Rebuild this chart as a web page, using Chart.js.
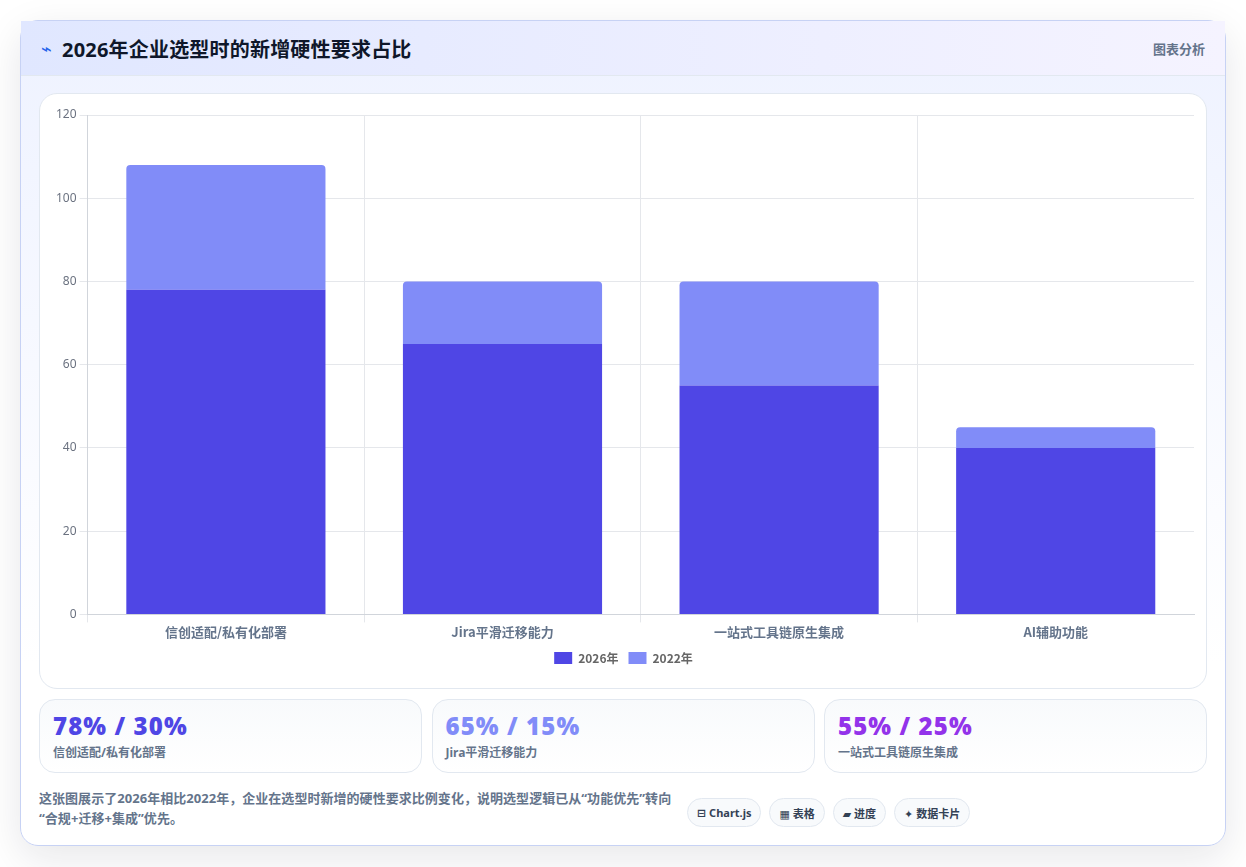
<!DOCTYPE html>
<html lang="zh-CN">
<head>
<meta charset="utf-8">
<title>2026年企业选型时的新增硬性要求占比</title>
<script src="https://cdn.jsdelivr.net/npm/chart.js@4"></script>
<style>
  * { box-sizing: border-box; }
  html, body { margin: 0; height: 100%; background: #fff; overflow: hidden; }
  body { font-family: "Noto Sans", "DejaVu Sans", "Noto Sans CJK SC", sans-serif; }
  .panel {
    position: absolute; left: 20px; top: 20px; width: 1206px; height: 826px;
    border: 1px solid #c7d2f4; border-radius: 18px;
    background: linear-gradient(180deg, #eef2ff 0%, #ffffff 78%);
    box-shadow: 0 12px 40px rgba(15, 23, 42, 0.1);
  }
  .header {
    height: 55px; display: flex; align-items: center; justify-content: space-between;
    padding: 0 20px; background: linear-gradient(90deg, #e0e7ff, #f5f3ff);
    border-bottom: 1px solid #e2e8f0;
  }
  .header h1 { margin: 0; font-size: 20px; font-weight: 700; letter-spacing: 0.2px; color: #0f172a; display: flex; align-items: center; }
  .header h1 span { width: 21px; font-size: 18px; font-weight: 400; color: #2563eb; font-family: "DejaVu Sans"; }
  .header em { font-style: normal; font-size: 13px; font-weight: 700; color: #64748b; }
  .chart-card {
    position: absolute; left: 18px; top: 72px; width: 1168px; height: 596px;
    background: #fff; border: 1px solid #e2e8f0; border-radius: 18px;
  }
  .chart-box { position: absolute; left: 0; top: 0; width: 1166px; height: 594px; }
  .kpi {
    position: absolute; top: 678px; height: 74px; width: 383px; padding: 11px 13px;
    background: linear-gradient(180deg, #f8fafc, #ffffff);
    border: 1px solid #e2e8f0; border-radius: 16px;
  }
  .kpi b { display: block; font: 900 24px/30px "Noto Sans", sans-serif; letter-spacing: 1.1px; }
  .kpi small { display: block; margin-top: 3px; font-size: 12px; font-weight: 700; line-height: 18px; color: #64748b; }
  .note {
    position: absolute; left: 18px; top: 767px; width: 640px;
    font-size: 13px; font-weight: 700; line-height: 20px; letter-spacing: 0.04px; color: #64748b;
  }
  .chips { position: absolute; left: 666px; top: 777px; display: flex; gap: 8px; }
  .chip {
    height: 29px; padding: 0 9px; display: flex; align-items: center;
    font-size: 11px; font-weight: 700; color: #334155;
    background: #f8fafc; border: 1px solid #e2e8f0; border-radius: 15px; white-space: nowrap;
  }
</style>
</head>
<body>
<div class="panel">
  <div class="header">
    <h1><span>⌁</span>2026年企业选型时的新增硬性要求占比</h1>
    <em>图表分析</em>
  </div>
  <div class="chart-card"><div class="chart-box"><canvas id="reqChart"></canvas></div></div>
  <div id="kpis"></div>
  <div class="note">这张图展示了2026年相比2022年，企业在选型时新增的硬性要求比例变化，说明选型逻辑已从“功能优先”转向“合规+迁移+集成”优先。</div>
  <div class="chips" id="chips"></div>
</div>
<script>
const categories = ['信创适配/私有化部署', 'Jira平滑迁移能力', '一站式工具链原生集成', 'AI辅助功能'];
const values2026 = [78, 65, 55, 40];
const values2022 = [30, 15, 25, 5];
const kpiLabels = ['信创适配/私有化部署', 'Jira平滑迁移能力', '一站式工具链原生集成'];
const kpiValues = ['78% / 30%', '65% / 15%', '55% / 25%'];
const kpiColors = ['#4f46e5', '#818cf8', '#9333ea'];
const chipLabels = ['⊟ Chart.js', '▦ 表格', '▰ 进度', '✦ 数据卡片'];

const kpiBox = document.getElementById('kpis');
kpiValues.forEach((v, i) => {
  const el = document.createElement('div');
  el.className = 'kpi';
  el.style.left = (18 + i * 392.5) + 'px';
  el.innerHTML = '<b style="color:' + kpiColors[i] + '">' + v + '</b><small>' + kpiLabels[i] + '</small>';
  kpiBox.appendChild(el);
});

const chipBox = document.getElementById('chips');
chipLabels.forEach(t => {
  const el = document.createElement('div');
  el.className = 'chip';
  el.textContent = t;
  chipBox.appendChild(el);
});

const cjkFont = '"Noto Sans CJK SC"';

new Chart(document.getElementById('reqChart'), {
  type: 'bar',
  data: {
    labels: categories,
    datasets: [
      { label: '2026年', data: values2026, backgroundColor: '#4f46e5', borderRadius: 0 },
      { label: '2022年', data: values2022, backgroundColor: '#818cf8', borderRadius: { topLeft: 4, topRight: 4 } }
    ]
  },
  options: {
    responsive: true,
    maintainAspectRatio: false,
    animation: false,
    layout: { padding: { left: 13, right: 12, top: 21, bottom: 14 } },
    plugins: {
      legend: {
        position: 'bottom',
        labels: { boxWidth: 18, boxHeight: 12, color: '#666', padding: 10, font: { size: 12, weight: '700', family: cjkFont } }
      }
    },
    scales: {
      x: {
        stacked: true,
        // the extra closing line at the right edge is not in the chart
        grid: { color: ctx => ctx.type === 'tick' ? '#e5e7eb' : 'transparent' },
        border: { color: '#d1d5db' },
        ticks: { padding: 2, color: '#64748b', font: { size: 13, weight: '700', family: cjkFont } }
      },
      y: {
        stacked: true,
        beginAtZero: true,
        max: 120,
        border: { color: '#d1d5db' },
        ticks: { stepSize: 20, color: '#6b7280', font: { size: 12, family: '"Noto Sans"' } },
        grid: { color: '#e5e7eb' }
      }
    }
  }
});
</script>
</body>
</html>
